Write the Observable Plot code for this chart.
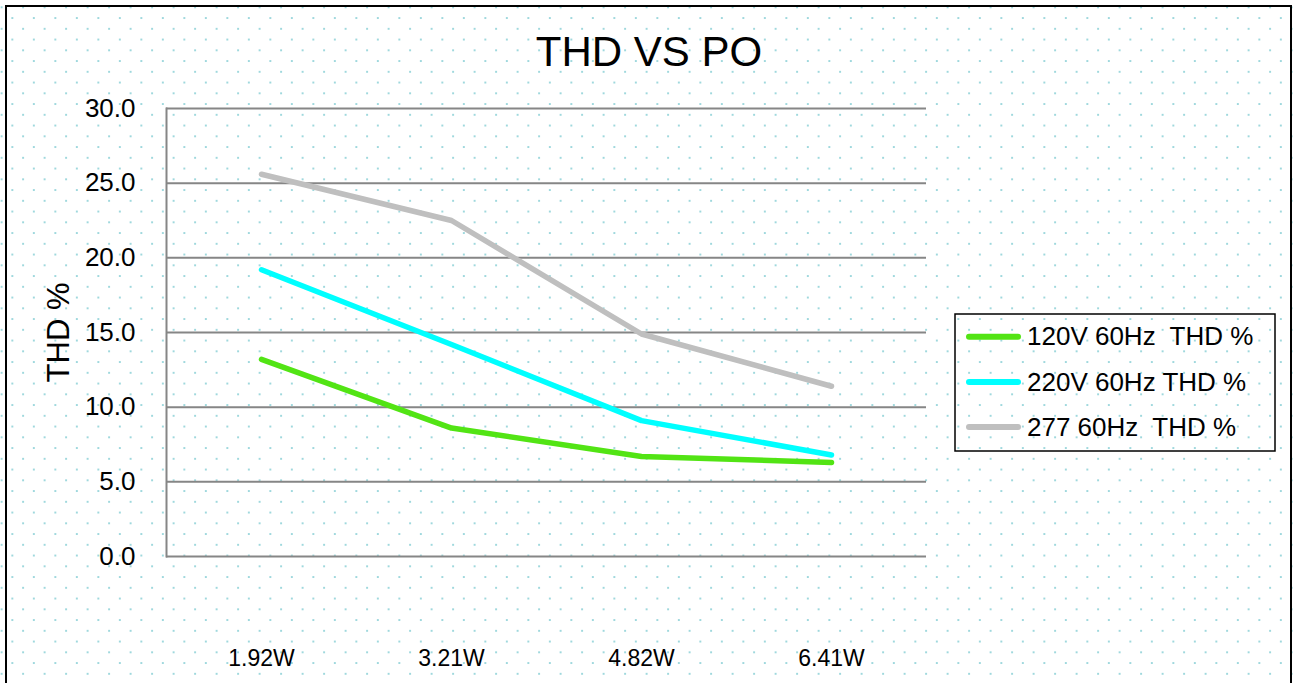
<!DOCTYPE html>
<html>
<head>
<meta charset="utf-8">
<script src="https://cdn.jsdelivr.net/npm/d3@7"></script>
<script src="https://cdn.jsdelivr.net/npm/@observablehq/plot@0.6"></script>
<style>
html, body { margin: 0; padding: 0; width: 1297px; height: 683px; overflow: hidden; background: #fff; }
#bg { position: absolute; left: 0; top: 0; width: 1297px; height: 683px;
  background-image:
    radial-gradient(circle, #9fd8dd 0px, #9fd8dd 0.8px, rgba(159,216,221,0) 1.5px),
    radial-gradient(circle, #9fd8dd 0px, #9fd8dd 0.8px, rgba(159,216,221,0) 1.5px);
  background-size: 21.5px 21.5px, 21.5px 21.5px;
  background-position: -9.15px -3.45px, 1.6px 7.3px; }
#chart { position: absolute; left: 0; top: 0; }
#border { position: absolute; left: 5px; top: 5px; width: 1287px; height: 720px; border: 2px solid #000; box-sizing: border-box; }
#legend { position: absolute; left: 950px; top: 310px; }
</style>
</head>
<body>
<div id="bg"></div>
<div id="chart"></div>
<div id="border"></div>
<div id="legend"></div>
<script>
const categories = ["1.92W", "3.21W", "4.82W", "6.41W"];
const series = ["120V 60Hz  THD %", "220V 60Hz THD %", "277 60Hz  THD %"];
const thd120 = [13.2, 8.6, 6.7, 6.3];
const thd220 = [19.2, 14.2, 9.1, 6.8];
const thd277 = [25.6, 22.5, 14.9, 11.4];
const colors = ["#52e414", "#00ffff", "#bfbfbf"];
const yTicks = [0, 5, 10, 15, 20, 25, 30];
const title = "THD VS PO";
const yLabel = "THD %";

const rows = [];
[thd120, thd220, thd277].forEach((vals, s) =>
  vals.forEach((v, i) => rows.push({series: series[s], cat: categories[i], v})));

const font = "'Liberation Sans', Arial, sans-serif";

const chart = Plot.plot({
  width: 1297,
  height: 683,
  marginLeft: 166,
  marginRight: 371,
  marginTop: 108,
  marginBottom: 127,
  style: {background: "transparent", fontFamily: font, color: "#000", overflow: "visible"},
  x: {type: "point", domain: categories, padding: 0.5},
  y: {domain: [0, 30]},
  color: {domain: series, range: colors},
  marks: [
    Plot.ruleY(yTicks, {stroke: "#868686", strokeWidth: 2}),
    Plot.frame({anchor: "left", stroke: "#868686", strokeWidth: 2}),
    Plot.axisY({ticks: yTicks, tickSize: 0, tickPadding: 31, tickFormat: d => d.toFixed(1), fontSize: 26, label: null}),
    Plot.axisX({tickSize: 0, tickPadding: 93, fontSize: 23, label: null}),
    Plot.line(rows, {x: "cat", y: "v", z: "series", stroke: "series", strokeWidth: 5.5, strokeLinecap: "round", strokeLinejoin: "round"}),
    Plot.text([title], {frameAnchor: "top", text: d => d, dx: 102.5, dy: -43, lineAnchor: "bottom", fontSize: 42}),
    Plot.text([yLabel], {frameAnchor: "left", textAnchor: "middle", text: d => d, rotate: -90, dx: -107, fontSize: 31})
  ]
});
document.getElementById("chart").appendChild(chart);

// Legend
const leg = d3.create("svg").attr("width", 330).attr("height", 146)
  .style("font-family", font).style("overflow", "visible");
leg.append("rect").attr("x", 5).attr("y", 4).attr("width", 320).attr("height", 137)
  .attr("fill", "none").attr("stroke", "#000").attr("stroke-width", 1.5);
const rowY = [26.7, 72, 117];
series.forEach((s, i) => {
  leg.append("line").attr("x1", 19).attr("x2", 68).attr("y1", rowY[i]).attr("y2", rowY[i])
    .attr("stroke", colors[i]).attr("stroke-width", 6).attr("stroke-linecap", "round");
  leg.append("text").attr("x", 77).attr("y", rowY[i] + 8.5)
    .attr("font-size", 26).attr("fill", "#000").style("white-space", "pre").text(s);
});
document.getElementById("legend").appendChild(leg.node());
</script>
</body>
</html>
